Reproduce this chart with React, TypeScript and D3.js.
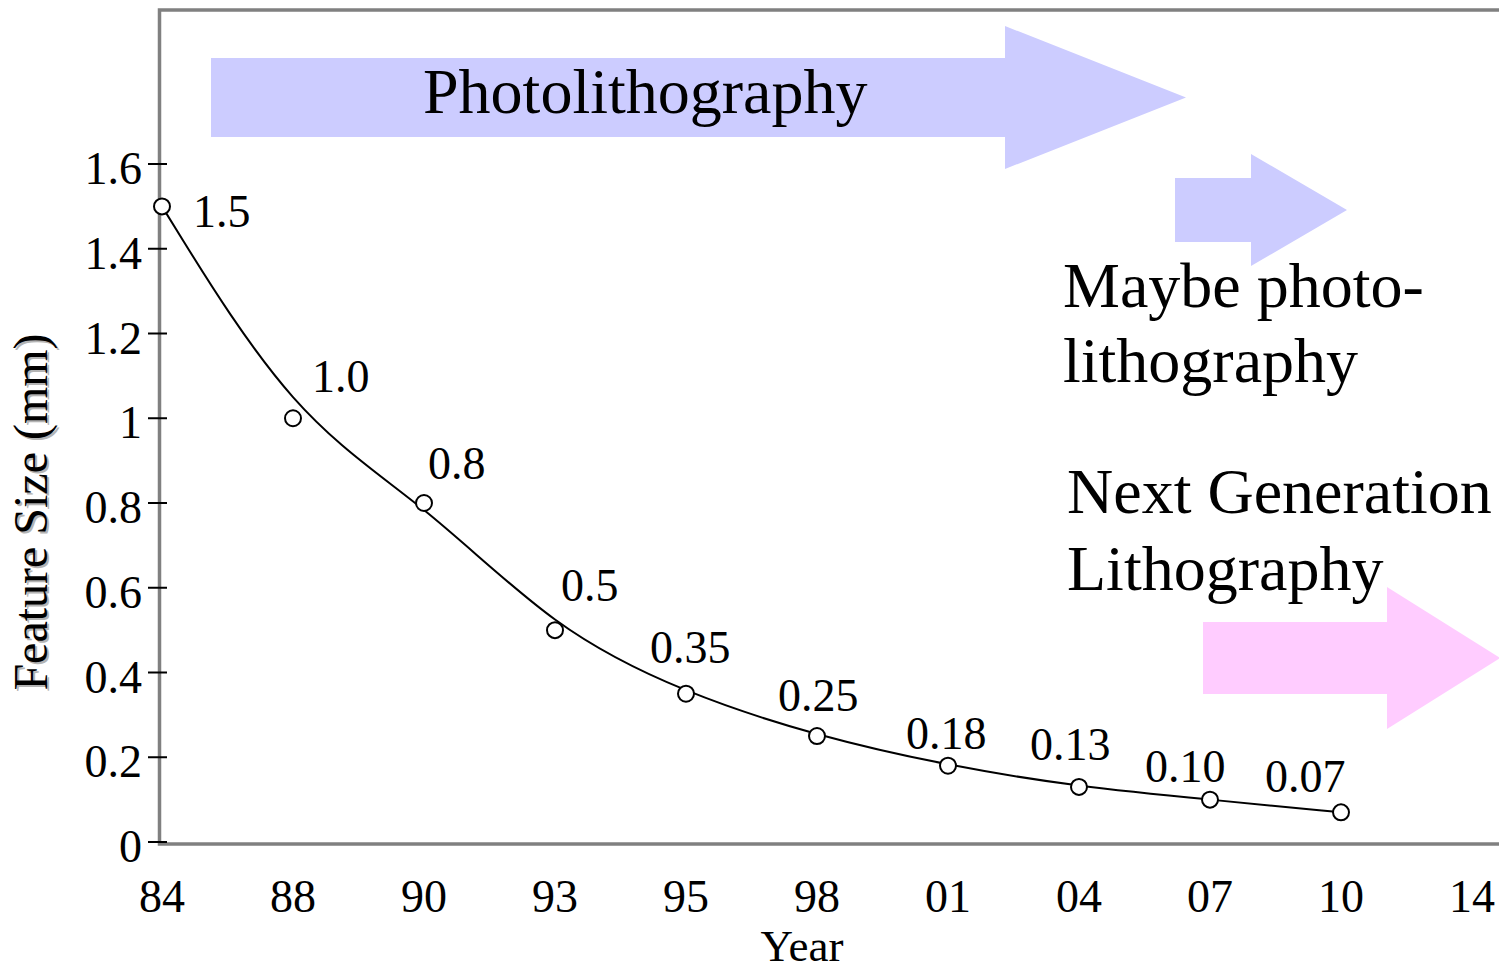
import React from "react";
import * as d3 from "d3";

// Year categories along the horizontal axis
const yearLabels = ["84", "88", "90", "93", "95", "98", "01", "04", "07", "10", "14"];
// Measured feature sizes per year
const featureYears = ["84", "88", "90", "93", "95", "98", "01", "04", "07", "10"];
const featureSize = [1.5, 1.0, 0.8, 0.5, 0.35, 0.25, 0.18, 0.13, 0.1, 0.07];
const valueLabels = ["1.5", "1.0", "0.8", "0.5", "0.35", "0.25", "0.18", "0.13", "0.10", "0.07"];
// Vertical axis ticks
const yTickValues = [0, 0.2, 0.4, 0.6, 0.8, 1.0, 1.2, 1.4, 1.6];
const yTickLabels = ["0", "0.2", "0.4", "0.6", "0.8", "1", "1.2", "1.4", "1.6"];

// Placement of each value label relative to its point (dx, dy)
const labelNudge: [number, number][] = [
  [31, 21],
  [19, -26],
  [4, -24],
  [6, -29],
  [-36, -31],
  [-39, -25],
  [-42, -17],
  [-49, -27],
  [-65, -18],
  [-76, -20],
];

const W = 1499;
const H = 972;
const FONT = "'Liberation Serif', 'Times New Roman', Times, serif";

const frame = { left: 159.5, top: 10, bottom: 844, right: 1504 };

// Block arrows: shaft rectangle + triangular head
type Arrow = { x0: number; x1: number; y0: number; y1: number; hTop: number; hBot: number; tip: number; fill: string };
const arrows: Arrow[] = [
  { x0: 211, x1: 1005, y0: 58, y1: 137, hTop: 26, hBot: 169, tip: 1186, fill: "#CCCCFF" },
  { x0: 1175, x1: 1251, y0: 178, y1: 242, hTop: 154, hBot: 266, tip: 1347, fill: "#CCCCFF" },
  { x0: 1203, x1: 1387, y0: 622, y1: 694, hTop: 587, hBot: 729, tip: 1500, fill: "#FFCCFF" },
];

function arrowPath(a: Arrow) {
  const p = d3.path();
  p.moveTo(a.x0, a.y0);
  p.lineTo(a.x1, a.y0);
  p.lineTo(a.x1, a.hTop);
  p.lineTo(a.tip, (a.hTop + a.hBot) / 2);
  p.lineTo(a.x1, a.hBot);
  p.lineTo(a.x1, a.y1);
  p.lineTo(a.x0, a.y1);
  p.closePath();
  return p.toString();
}

export default function App() {
  const x = d3.scalePoint<string>().domain(yearLabels).range([162, 1472]);
  const y = d3.scaleLinear().domain([0, 1.6]).range([842, 164]);

  const points = featureYears.map((yr, i) => ({
    x: x(yr) as number,
    y: y(featureSize[i]),
    label: valueLabels[i],
    nudge: labelNudge[i],
  }));

  // smoothed trend through the measurements
  const line = d3
    .line<{ x: number; y: number }>()
    .x((d) => d.x)
    .y((d) => d.y)
    .curve(d3.curveBasis);

  const titleX = 47;
  const titleY = 512;

  return (
    <svg
      width={W}
      height={H}
      viewBox={`0 0 ${W} ${H}`}
      style={{ position: "absolute", left: 0, top: 0, background: "#fff" }}
      fontFamily={FONT}
    >
      <rect x={0} y={0} width={W} height={H} fill="#fff" />

      {/* arrows */}
      {arrows.map((a, i) => (
        <path key={i} d={arrowPath(a)} fill={a.fill} />
      ))}

      {/* frame */}
      <rect
        x={frame.left}
        y={frame.top}
        width={frame.right - frame.left}
        height={frame.bottom - frame.top}
        fill="none"
        stroke="#808080"
        strokeWidth={3.5}
      />

      {/* y ticks and labels */}
      {yTickValues.map((v, i) => (
        <g key={i}>
          <line x1={148} x2={167} y1={y(v)} y2={y(v)} stroke="#000" strokeWidth={2} />
          <text x={142} y={y(v) + 20} textAnchor="end" fontSize={46} fill="#000">
            {yTickLabels[i]}
          </text>
        </g>
      ))}

      {/* x labels */}
      {yearLabels.map((yr) => (
        <text key={yr} x={x(yr)} y={912} textAnchor="middle" fontSize={46} fill="#000">
          {yr}
        </text>
      ))}

      {/* axis titles */}
      <g transform={`translate(${titleX + 2},${titleY + 2}) rotate(-90)`}>
        <text textAnchor="middle" fontSize={48} fill="#b4b4b4">
          Feature Size (mm)
        </text>
      </g>
      <g transform={`translate(${titleX},${titleY}) rotate(-90)`}>
        <text textAnchor="middle" fontSize={48} fill="#000">
          Feature Size (mm)
        </text>
      </g>
      <text x={802} y={961} textAnchor="middle" fontSize={45} fill="#000">
        Year
      </text>

      {/* annotation texts */}
      <text x={423} y={113} fontSize={64} fill="#000">
        Photolithography
      </text>
      <text x={1063} y={307} fontSize={64} fill="#000">
        Maybe photo-
      </text>
      <text x={1063} y={382} fontSize={64} fill="#000">
        lithography
      </text>
      <text x={1067} y={513} fontSize={64} fill="#000">
        Next Generation
      </text>
      <text x={1067} y={590} fontSize={64} fill="#000">
        Lithography
      </text>

      {/* trend curve */}
      <path d={line(points) ?? ""} fill="none" stroke="#000" strokeWidth={2} />

      {/* points and value labels */}
      {points.map((p, i) => (
        <g key={i}>
          <circle cx={p.x} cy={p.y} r={8} fill="#fff" stroke="#000" strokeWidth={2} />
          <text x={p.x + p.nudge[0]} y={p.y + p.nudge[1]} fontSize={46} fill="#000">
            {p.label}
          </text>
        </g>
      ))}
    </svg>
  );
}
